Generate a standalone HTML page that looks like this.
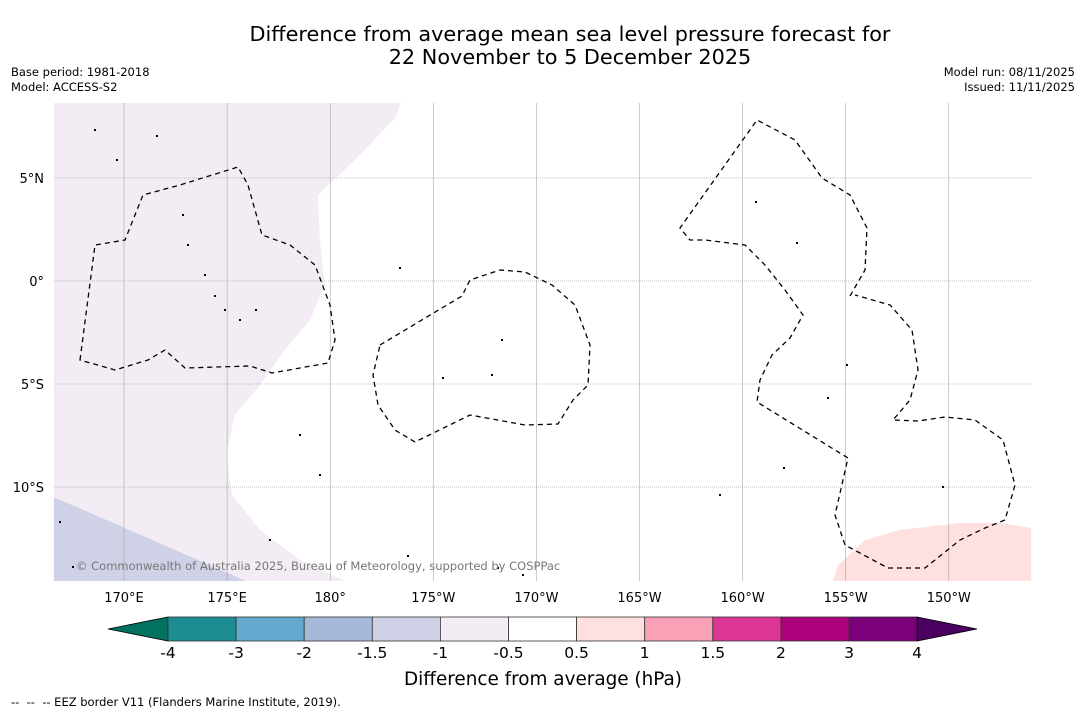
<!DOCTYPE html>
<html><head><meta charset="utf-8"><style>
body{margin:0;background:#fff;font-family:"DejaVu Sans","Liberation Sans",sans-serif}
svg{display:block}
</style></head><body>
<svg id="c" width="1085" height="713" font-family="DejaVu Sans, Liberation Sans, sans-serif">
<rect width="1085" height="713" fill="#fff"/>
<text x="570" y="41" font-size="20.8" text-anchor="middle">Difference from average mean sea level pressure forecast for</text>
<text x="570" y="64" font-size="20.8" text-anchor="middle">22 November to 5 December 2025</text>
<text x="11" y="76" font-size="11.5">Base period: 1981-2018</text>
<text x="11" y="91" font-size="11.5">Model: ACCESS-S2</text>
<text x="1075" y="76" font-size="11.5" text-anchor="end">Model run: 08/11/2025</text>
<text x="1075" y="91" font-size="11.5" text-anchor="end">Issued: 11/11/2025</text>
<g id="map"></g>
<g id="cb"></g>
<text x="543" y="685" font-size="18.4" text-anchor="middle">Difference from average (hPa)</text>
<text x="11" y="706" font-size="11.5" xml:space="preserve">--  --  -- EEZ border V11 (Flanders Marine Institute, 2019).</text>
</svg>
<script>
// data
const lonTicks=[170,175,180,185,190,195,200,205,210];
const lonLabels=["170°E","175°E","180°","175°W","170°W","165°W","160°W","155°W","150°W"];
const latTicks=[5,0,-5,-10];
const latLabels=["5°N","0°","5°S","10°S"];
const bandLevels=[-4,-3,-2,-1.5,-1,-0.5,0.5,1,1.5,2,3,4];
const bandLabels=["-4","-3","-2","-1.5","-1","-0.5","0.5","1","1.5","2","3","4"];
const bandColors=["#1d8d93","#66a9cf","#a6b9d8","#cfd1e6","#f3ecf5","#ffffff","#fde0df","#f8a1b7","#dc3695","#ad027c","#7a017a"];
const lowColor="#02715f", highColor="#4a005f";
const regionLightPurpleLon=[166.6,183.43,183.14,181.45,179.41,179.5,179.75,179.02,177.8,176.6,175.38,174.95,175.24,176.6,178.54,180.72,166.6];
const regionLightPurpleLat=[8.64,8.64,7.91,6.12,4.17,1.99,-0.19,-1.89,-3.35,-5.05,-6.5,-8.45,-10.39,-12.09,-13.54,-14.56,-14.56];
const regionBlueLon=[166.6,175.92,166.6];
const regionBlueLat=[-10.49,-14.56,-14.56];
const regionPinkLon=[204.38,204.63,205.94,207.63,210.54,212.48,214.0,214.0];
const regionPinkLat=[-14.56,-13.79,-12.57,-12.09,-11.75,-11.75,-11.99,-14.56];

const x=lon=>124+(lon-170)*20.62;
const y=lat=>281-lat*20.6;
const NS="http://www.w3.org/2000/svg";
function mk(tag,at,parent){const e=document.createElementNS(NS,tag);for(const k in at)e.setAttribute(k,at[k]);parent.appendChild(e);return e;}
const map=document.getElementById('map');
function poly(lons,lats,fill,name){
  const p=mk('polygon',{points:lons.map((l,i)=>x(l)+','+y(lats[i])).join(' '),fill:fill},map);
  
  
}
poly(regionLightPurpleLon,regionLightPurpleLat,bandColors[4],'region-minus1-to-minus0.5');
poly(regionBlueLon,regionBlueLat,bandColors[3],'region-minus1.5-to-minus1');
poly(regionPinkLon,regionPinkLat,bandColors[6],'region-0.5-to-1');
// grid
lonTicks.forEach((t,i)=>{
  const l=mk('line',{x1:x(t),x2:x(t),y1:103,y2:581,stroke:'#999','stroke-width':0.5},map);
  
  
  const tx=mk('text',{x:x(t),y:602,'font-size':13,'text-anchor':'middle'},map);tx.textContent=lonLabels[i];
  
  
});
latTicks.forEach((t,i)=>{
  const l=mk('line',{x1:54,x2:1031,y1:y(t),y2:y(t),stroke:'#888','stroke-width':0.6,'stroke-dasharray':'1,1'},map);
  
  
  const tx=mk('text',{x:44,y:y(t)+5,'font-size':13,'text-anchor':'end'},map);tx.textContent=latLabels[i];
  
  
});
// EEZ borders (basemap)
const eez=[
"M80,360 L95,245 L125,240 L143,195 L180,185 L238,167 L248,185 L262,235 L290,245 L315,265 L330,305 L335,340 L328,363 L272,373 L250,366 L185,368 L165,350 L148,360 L115,370 Z",
"M380,345 L462,296 L470,280 L500,270 L525,272 L552,285 L575,305 L590,345 L588,385 L573,400 L558,424 L525,425 L470,415 L415,442 L395,430 L378,405 L373,375 Z",
"M850,296 L865,270 L867,228 L850,195 L822,178 L795,140 L757,120 L680,228 L690,240 L705,240 L745,245 L765,265 L785,290 L803,315 L790,338 L772,355 L760,380 L757,402 L848,458 L835,515 L845,545 L888,568 L925,568 L960,540 L985,528 L1005,520 L1015,485 L1003,440 L975,420 L945,417 L918,421 L893,420 L910,400 L918,370 L912,330 L890,305 L855,295"];
eez.forEach(d=>{const p=mk('path',{d:d,fill:'none',stroke:'#000','stroke-width':1.3,'stroke-dasharray':'5,4'},map);
  
  });
// islands
[[95,130],[117,160],[157,136],[183,215],[188,245],[205,275],[215,296],[225,310],[240,320],[256,310],[400,268],[502,340],[492,375],[443,378],[756,202],[797,243],[784,468],[720,495],[828,398],[847,365],[943,487],[523,575],[498,568],[60,522],[73,567],[270,540],[408,556],[300,435],[320,475]].forEach(p=>{
  const c=mk('rect',{x:p[0]-1,y:p[1]-1,width:2,height:2,fill:'#000'},map);
  
  
});
const cp=mk('text',{x:76,y:570,'font-size':11.5,fill:'#777'},map);cp.textContent='© Commonwealth of Australia 2025, Bureau of Meteorology, supported by COSPPac';


// colorbar
const cb=document.getElementById('cb');
const cx0=168,cw=68.1,cy0=617,ch=24;
const lt=mk('polygon',{points:`108,${cy0+ch/2} ${cx0},${cy0} ${cx0},${cy0+ch}`,fill:lowColor,stroke:'#000','stroke-width':0.8},cb);


bandColors.forEach((c,i)=>{
  const r=mk('rect',{x:cx0+i*cw,y:cy0,width:cw,height:ch,fill:c,stroke:'#333','stroke-width':0.8},cb);
  
  
});
const xe=cx0+bandColors.length*cw;
const ht=mk('polygon',{points:`${xe},${cy0} 977,${cy0+ch/2} ${xe},${cy0+ch}`,fill:highColor,stroke:'#000','stroke-width':0.8},cb);


bandLevels.forEach((v,i)=>{
  const t=mk('text',{x:cx0+i*cw,y:658,'font-size':15.5,'text-anchor':'middle'},cb);t.textContent=bandLabels[i];
  
  
});
</script>
</body></html>
